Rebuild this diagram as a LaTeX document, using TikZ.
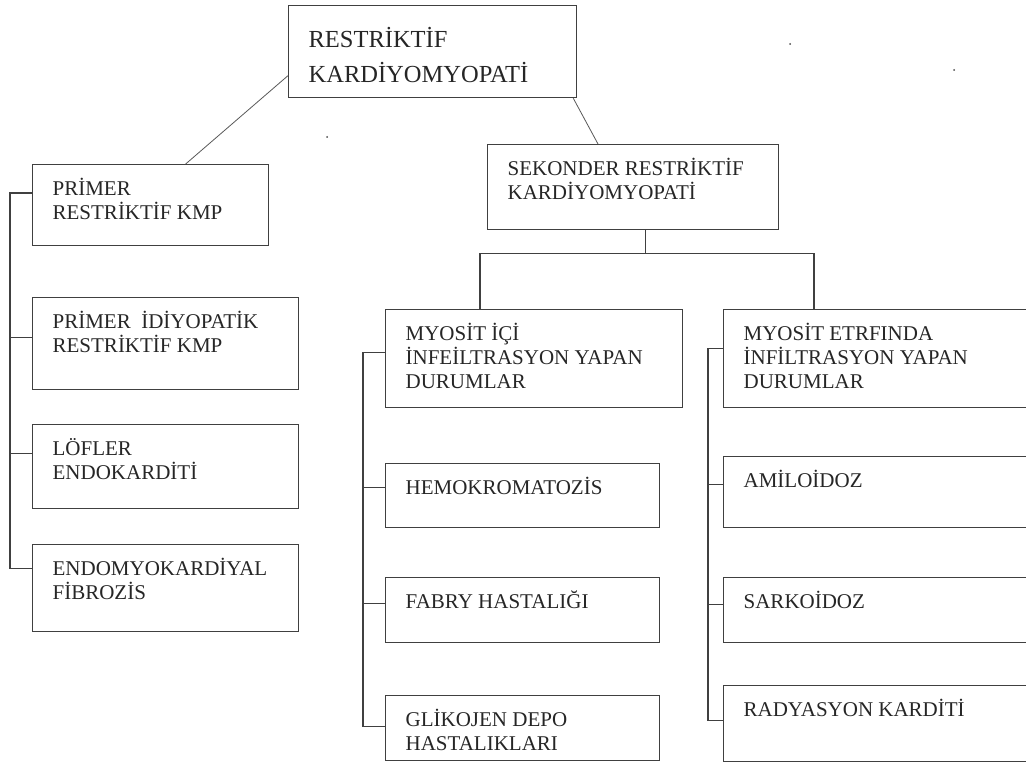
\documentclass[tikz,border=0pt]{standalone}
\usepackage{fontspec}
\setmainfont{Liberation Serif}
\usepackage{tikz}

\newcommand{\kutuyazi}[4][31pt]{\parbox[c][#3][t]{#2}{\rule{0pt}{#1}#4}}

\begin{document}
\begin{tikzpicture}[x=1pt, y=-1pt,
  kutu/.style={draw=black!75, line width=1.3pt, anchor=north west, inner xsep=20pt, inner ysep=0pt,
    font=\fontsize{21}{24}\selectfont, text=black!85},
  hat/.style={draw=black!75, line width=1.3pt},
  ince/.style={draw=black!65, line width=0.8pt}]
  \path[use as bounding box, clip] (0,0) rectangle (1026,762);
  \fill[white] (0,0) rectangle (1026,762);

  % main box
  \node[kutu, font=\fontsize{24.5}{35}\selectfont] (ana) at (288,5)
    {\kutuyazi[42pt]{248pt}{92pt}{RESTRİKTİF\\KARDİYOMYOPATİ}};

  % primary group
  \node[kutu] (primer) at (32,164) {\kutuyazi{196pt}{81pt}{PRİMER\\RESTRİKTİF KMP}};
  \node[kutu] (idio) at (32,297) {\kutuyazi{226pt}{92pt}{PRİMER\ \ İDİYOPATİK\\RESTRİKTİF KMP}};
  \node[kutu] (lofler) at (32,424) {\kutuyazi{226pt}{84pt}{LÖFLER\\ENDOKARDİTİ}};
  \node[kutu] (endo) at (32,544) {\kutuyazi{226pt}{87pt}{ENDOMYOKARDİYAL\\FİBROZİS}};

  % secondary group
  \node[kutu] (sekonder) at (487,144) {\kutuyazi{251pt}{85pt}{SEKONDER RESTRİKTİF\\KARDİYOMYOPATİ}};

  \node[kutu] (icinde) at (385,309) {\kutuyazi{257pt}{98pt}{MYOSİT İÇİ\\İNFEİLTRASYON~YAPAN\\DURUMLAR}};
  \node[kutu] (hemo) at (385,463) {\kutuyazi{234pt}{64pt}{HEMOKROMATOZİS}};
  \node[kutu] (fabry) at (385,577) {\kutuyazi{234pt}{65pt}{FABRY HASTALIĞI}};
  \node[kutu] (glikojen) at (385,695) {\kutuyazi{234pt}{65pt}{GLİKOJEN DEPO\\HASTALIKLARI}};

  \node[kutu] (etrafinda) at (723,309) {\kutuyazi{280pt}{98pt}{MYOSİT ETRFINDA\\İNFİLTRASYON YAPAN\\DURUMLAR}};
  \node[kutu] (amil) at (723,456) {\kutuyazi{280pt}{71pt}{AMİLOİDOZ}};
  \node[kutu] (sark) at (723,577) {\kutuyazi{280pt}{65pt}{SARKOİDOZ}};
  \node[kutu] (rady) at (723,685) {\kutuyazi{280pt}{76pt}{RADYASYON KARDİTİ}};

  % links from the main box
  \draw[ince] ([yshift=-24pt]ana.west) -- ([xshift=35pt]primer.north);
  \draw[ince] ([xshift=-4pt]ana.south east) -- ([xshift=111pt]sekonder.north west);

  % split under the secondary box
  \draw[hat] ([xshift=12pt]sekonder.south) -- ++(0,23) coordinate (dal);
  \draw[hat] ([xshift=95pt]icinde.north west) |- (dal) -| ([xshift=91pt]etrafinda.north west);

  % left spine
  \draw[hat] ([yshift=12pt]primer.west) -- ++(-22,0) |- ([yshift=20pt]endo.west);
  \foreach \k/\s in {idio/6, lofler/13}
    \draw[hat] ([yshift=\s pt]\k.west) -- ++(-22,0);

  % middle spine
  \draw[hat] ([yshift=6pt]icinde.west) -- ++(-22,0) |- ([yshift=2pt]glikojen.west);
  \foreach \k/\s in {hemo/8, fabry/7}
    \draw[hat] ([yshift=\s pt]\k.west) -- ++(-22,0);

  % right spine
  \draw[hat] ([yshift=10pt]etrafinda.west) -- ++(-15,0) |- ([yshift=3pt]rady.west);
  \foreach \k/\s in {amil/8, sark/6}
    \draw[hat] ([yshift=\s pt]\k.west) -- ++(-15,0);

  % stray dots
  \fill[black!70] (790,44) circle (1pt) (954,70) circle (1pt) (327,137) circle (1pt);
\end{tikzpicture}
\end{document}
